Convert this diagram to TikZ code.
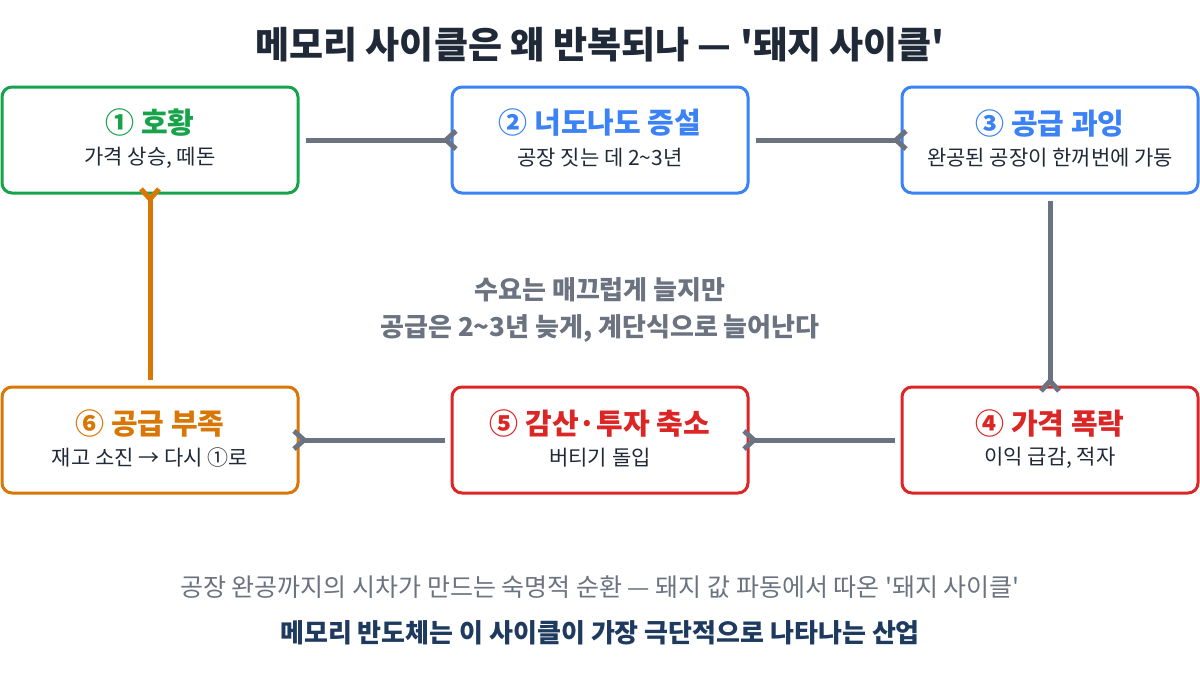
\documentclass[tikz,border=0pt]{standalone}
\usepackage{fontspec}
\setmainfont{Noto Sans CJK KR}
\usetikzlibrary{arrows.meta}
\definecolor{cgreen}{HTML}{16A34A}
\definecolor{cblue}{HTML}{3B82F6}
\definecolor{cred}{HTML}{DC2626}
\definecolor{corange}{HTML}{D97706}
\definecolor{cgray}{HTML}{6B7280}
\definecolor{cdark}{HTML}{1F2937}
\definecolor{cnavy}{HTML}{1E3A5F}
\tikzset{
  box/.style={draw,line width=3pt,rounded corners=10pt,minimum width=296pt,minimum height=106pt,fill=white},
  head/.style={font=\fontsize{29}{34}\selectfont\bfseries},
  sub/.style={font=\fontsize{21}{26}\selectfont,text=cdark},
  link/.style={cgray,line width=5pt,-{Straight Barb[reversed,length=10pt,width=18pt]},shorten <=6pt,shorten >=-8pt},
}
\begin{document}
\begin{tikzpicture}[x=1pt,y=-1pt]
    \useasboundingbox (0,0) rectangle (1200,675);
    \node[font=\fontsize{37}{42}\selectfont\bfseries,text=cdark] (title) at (600,45) {메모리 사이클은 왜 반복되나 — \textquotesingle 돼지 사이클\textquotesingle};

    \node[box,draw=cgreen] (B1) at (150,140) {};
    \node[box,draw=cblue] (B2) at (600,140) {};
    \node[box,draw=cblue] (B3) at (1050,140) {};
    \node[box,draw=cred] (B4) at (1050,440) {};
    \node[box,draw=cred] (B5) at (600,440) {};
    \node[box,draw=corange] (B6) at (150,440) {};

    \node[head,text=cgreen] (H1) at (150,123) {① 호황};
    \node[sub] (S1) at (150,158) {가격 상승, 떼돈};
    \node[head,text=cblue] (H2) at (600,123) {② 너도나도 증설};
    \node[sub] (S2) at (600,158) {공장 짓는 데 2\textasciitilde 3년};
    \node[head,text=cblue] (H3) at (1050,123) {③ 공급 과잉};
    \node[sub] (S3) at (1050,158) {완공된 공장이 한꺼번에 가동};
    \node[head,text=cred] (H4) at (1050,423) {④ 가격 폭락};
    \node[sub] (S4) at (1050,458) {이익 급감, 적자};
    \node[head,text=cred] (H5) at (600,423) {⑤ 감산·투자 축소};
    \node[sub] (S5) at (600,458) {버티기 돌입};
    \node[head,text=corange] (H6) at (150,423) {⑥ 공급 부족};
    \node[sub] (S6) at (150,458) {재고 소진 → 다시 ①로};

    \draw[link] (B1.east) -- (B2.west);
    \draw[link] (B2.east) -- (B3.west);
    \draw[link] (B3.south) -- (B4.north);
    \draw[link] (B4.west) -- (B5.east);
    \draw[link] (B5.west) -- (B6.east);
    \draw[link,corange] (B6.north) -- (B1.south);

    \node[font=\fontsize{26}{37}\selectfont\bfseries,text=cgray,align=center] (mid) at (600,310) {수요는 매끄럽게 늘지만\\공급은 2\textasciitilde 3년 늦게, 계단식으로 늘어난다};
    \node[font=\fontsize{25}{30}\selectfont,text=cgray] (foot) at (600,587) {공장 완공까지의 시차가 만드는 숙명적 순환 — 돼지 값 파동에서 따온 \textquotesingle 돼지 사이클\textquotesingle};
    \node[font=\fontsize{26}{30}\selectfont\bfseries,text=cnavy] (last) at (600,633) {메모리 반도체는 이 사이클이 가장 극단적으로 나타나는 산업};
\end{tikzpicture}
\end{document}
